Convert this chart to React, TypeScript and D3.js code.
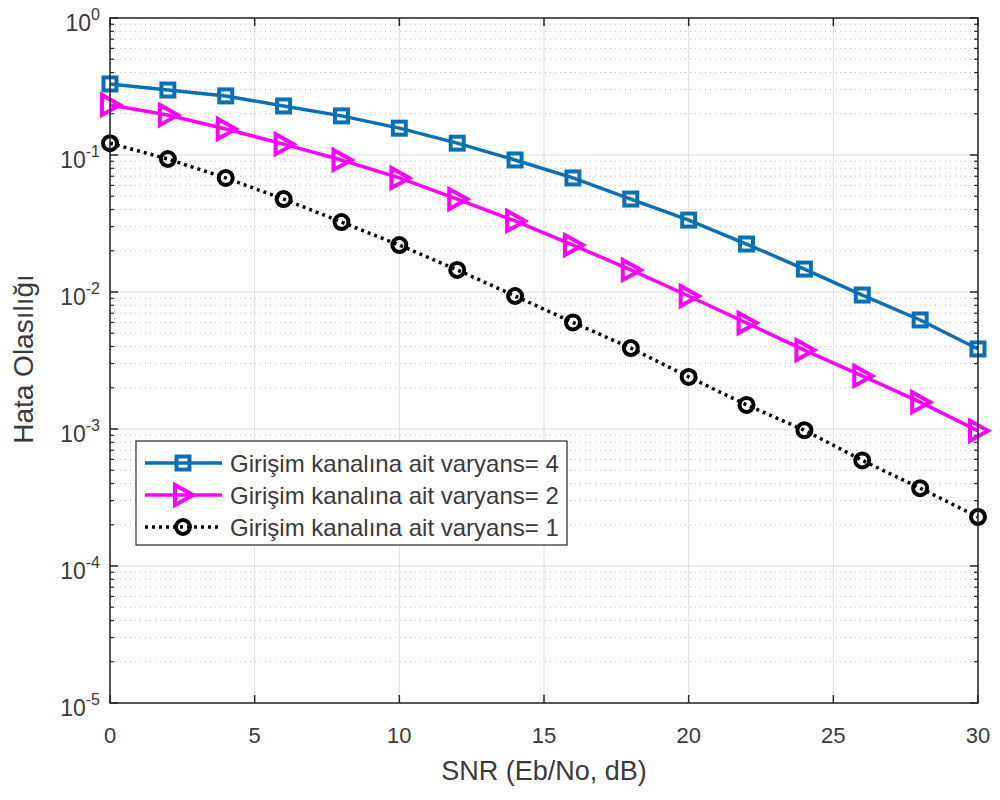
import React from "react";
import * as d3 from "d3";

const snr = [0, 2, 4, 6, 8, 10, 12, 14, 16, 18, 20, 22, 24, 26, 28, 30];
const var4 = [0.33, 0.298, 0.27, 0.228, 0.193, 0.157, 0.122, 0.092, 0.068, 0.0477, 0.0335, 0.0224, 0.0147, 0.0095, 0.00625, 0.00384];
const var2 = [0.232, 0.196, 0.155, 0.12, 0.092, 0.068, 0.0477, 0.033, 0.022, 0.0145, 0.00935, 0.00594, 0.00377, 0.00244, 0.00157, 0.00097];
const var1 = [0.122, 0.0935, 0.068, 0.0477, 0.0324, 0.022, 0.0145, 0.00935, 0.006, 0.0039, 0.0024, 0.0015, 0.00098, 0.00059, 0.00037, 0.000228];
const xTicks = [0, 5, 10, 15, 20, 25, 30];
const yExps = [0, -1, -2, -3, -4, -5];
const legendLabels = [
  "Girişim kanalına ait varyans= 4",
  "Girişim kanalına ait varyans= 2",
  "Girişim kanalına ait varyans= 1",
];

const L = 110, R = 978, T = 18, B = 703;
const FONT = "'Liberation Sans', Arial, Helvetica, sans-serif";
const BLUE = "#0a70b4";
const MAG = "#FF00FF";
const TXT = "#3a3a3a";

function Marker({ kind, x, y, color }: { kind: string; x: number; y: number; color: string }) {
  if (kind === "square") {
    const s = 13;
    return <rect x={x - s / 2} y={y - s / 2} width={s} height={s} fill="none" stroke={color} strokeWidth={4} />;
  }
  if (kind === "tri") {
    const h = 10;
    return (
      <path
        d={`M${x + h},${y} L${x - h * 0.8},${y - h} L${x - h * 0.8},${y + h} Z`}
        fill="none"
        stroke={color}
        strokeWidth={4}
        strokeLinejoin="miter"
      />
    );
  }
  return <circle cx={x} cy={y} r={7} fill="none" stroke={color} strokeWidth={4} />;
}

export default function App() {
  const x = d3.scaleLinear().domain([0, 30]).range([L, R]);
  const y = d3.scaleLog().domain([1e-5, 1]).range([B, T]);
  const line = d3
    .line<number>()
    .x((_, i) => x(snr[i]))
    .y((d) => y(d));

  const series = [
    { data: var4, color: BLUE, kind: "square", dash: undefined as string | undefined },
    { data: var2, color: MAG, kind: "tri", dash: undefined as string | undefined },
    { data: var1, color: "#000000", kind: "circle", dash: "3,4" },
  ];

  const minorVals: number[] = [];
  for (let e = -5; e < 0; e++) {
    for (let m = 2; m <= 9; m++) minorVals.push(m * Math.pow(10, e));
  }

  return (
    <svg width={1000} height={800} style={{ display: "block", position: "absolute", left: 0, top: 0 }} fontFamily={FONT}>
      <rect x={0} y={0} width={1000} height={800} fill="#ffffff" />
      {/* minor grid */}
      {minorVals.map((v, i) => (
        <line key={"mg" + i} x1={L} x2={R} y1={y(v)} y2={y(v)} stroke="#bdbdbd" strokeWidth={1} strokeDasharray="1,4" />
      ))}
      {/* major grid */}
      {xTicks.map((t) => (
        <line key={"gx" + t} x1={x(t)} x2={x(t)} y1={T} y2={B} stroke="#dcdcdc" strokeWidth={1} />
      ))}
      {yExps.map((e) => (
        <line key={"gy" + e} x1={L} x2={R} y1={y(Math.pow(10, e))} y2={y(Math.pow(10, e))} stroke="#dcdcdc" strokeWidth={1} />
      ))}
      {/* ticks */}
      {xTicks.map((t) => (
        <g key={"tx" + t}>
          <line x1={x(t)} x2={x(t)} y1={B} y2={B - 8} stroke="#262626" strokeWidth={1.5} />
          <line x1={x(t)} x2={x(t)} y1={T} y2={T + 8} stroke="#262626" strokeWidth={1.5} />
          <text x={x(t)} y={743} textAnchor="middle" fontSize={22} fill={TXT}>
            {t}
          </text>
        </g>
      ))}
      {yExps.map((e) => {
        const yy = y(Math.pow(10, e));
        return (
          <g key={"ty" + e}>
            <line x1={L} x2={L + 8} y1={yy} y2={yy} stroke="#262626" strokeWidth={1.5} />
            <line x1={R} x2={R - 8} y1={yy} y2={yy} stroke="#262626" strokeWidth={1.5} />
            <text x={100} y={yy + 13} textAnchor="end" fill={TXT}>
              <tspan fontSize={23}>10</tspan>
              <tspan fontSize={16} dy={-11}>
                {String(e)}
              </tspan>
            </text>
          </g>
        );
      })}
      {minorVals.map((v, i) => (
        <g key={"mt" + i}>
          <line x1={L} x2={L + 4} y1={y(v)} y2={y(v)} stroke="#262626" strokeWidth={1.2} />
          <line x1={R} x2={R - 4} y1={y(v)} y2={y(v)} stroke="#262626" strokeWidth={1.2} />
        </g>
      ))}
      {/* series */}
      {series.map((s, si) => (
        <g key={"s" + si}>
          <path d={line(s.data) || ""} fill="none" stroke={s.color} strokeWidth={3.5} strokeDasharray={s.dash} />
          {s.data.map((v, i) => (
            <Marker key={i} kind={s.kind} x={x(snr[i])} y={y(v)} color={s.color} />
          ))}
        </g>
      ))}
      {/* axes box */}
      <rect x={L} y={T} width={R - L} height={B - T} fill="none" stroke="#262626" strokeWidth={1.5} />
      {/* legend */}
      <rect x={136} y={441} width={431} height={104} fill="#ffffff" stroke="#262626" strokeWidth={1.2} />
      {series.map((s, i) => {
        const ly = 463 + i * 32;
        return (
          <g key={"lg" + i}>
            <line x1={145} x2={222} y1={ly} y2={ly} stroke={s.color} strokeWidth={3.5} strokeDasharray={s.dash} />
            <Marker kind={s.kind} x={183} y={ly} color={s.color} />
            <text x={230} y={ly + 8.5} fontSize={24} fill={TXT}>
              {legendLabels[i]}
            </text>
          </g>
        );
      })}
      {/* axis labels */}
      <text x={544} y={780} textAnchor="middle" fontSize={27} fill={TXT}>
        SNR (Eb/No, dB)
      </text>
      <text transform="translate(33,359) rotate(-90)" textAnchor="middle" fontSize={28} fill={TXT}>
        Hata Olasılığı
      </text>
    </svg>
  );
}
